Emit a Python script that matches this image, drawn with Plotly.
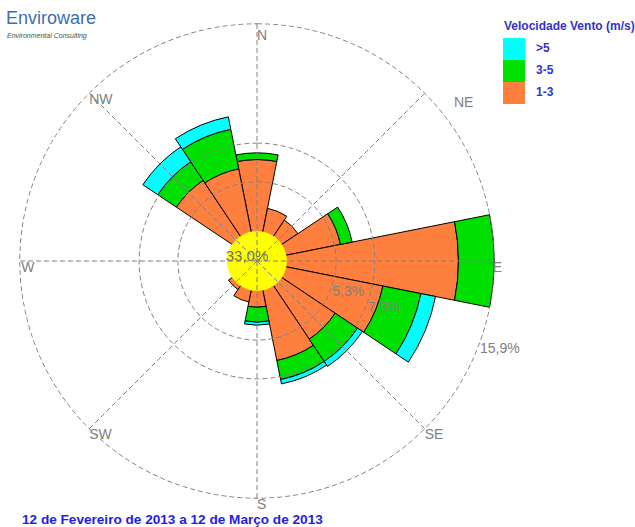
import plotly.graph_objects as go

# --- Wind rose data (% of observations) ---
DIRECTIONS = ["N", "NNE", "NE", "ENE", "E", "ESE", "SE", "SSE",
              "S", "SSW", "SW", "WSW", "W", "WNW", "NW", "NNW"]
SPEED_1_3 = [6.8, 3.6, 3.3, 5.7, 13.5, 8.6, 6.3, 6.8, 3.1, 2.8, 2.3, 1.9, 1.0, 1.5, 6.5, 6.3]
SPEED_3_5 = [0.45, None, None, 0.8, 2.4, 2.6, 1.8, 1.3, 1.0, None, None, None, None, None, 1.5, 2.7]
SPEED_GT5 = [None, None, None, None, None, 1.0, 0.4, 0.3, 0.2, None, None, None, None, None, 1.2, 0.85]
CALM_PCT = 33.0
RING_VALUES = [5.3, 7.9, 15.9]
COMPASS_LABELS = ["N", "NE", "E", "SE", "S", "SW", "W", "NW"]
LEGEND_TITLE = "Velocidade Vento (m/s)"
LEGEND_LABELS = [">5", "3-5", "1-3"]
PERIOD_TEXT = "12 de Fevereiro de 2013 a 12 de Março de 2013"

# --- Style ---
W, H = 635, 527
CX, CY, R_PX = 257, 261, 238          # plot centre and outer radius in pixels
R_MAX = 15.95
CALM_RADIUS = 2.0                      # radius of the calm disc, in radial units
C_LOW, C_MID, C_HIGH = "#FF7F3F", "#00E000", "#00FFFF"
GREY = "#808080"
BLUE_TXT = "#3333CC"
FONT = "Liberation Sans, Arial, sans-serif"
GRID_DASH = "5px,3px"

sector = 360 / len(DIRECTIONS)
theta = [i * sector for i in range(len(DIRECTIONS))]

fig = go.Figure()
for vals, col, name in [(SPEED_1_3, C_LOW, LEGEND_LABELS[2]),
                        (SPEED_3_5, C_MID, LEGEND_LABELS[1]),
                        (SPEED_GT5, C_HIGH, LEGEND_LABELS[0])]:
    fig.add_trace(go.Barpolar(
        r=vals, theta=theta, width=[sector] * len(theta), name=name,
        marker=dict(color=col, line=dict(color="black", width=1)),
        showlegend=False, hoverinfo="skip"))

# calm disc in the centre
circle_theta = [i * 2 for i in range(181)]
fig.add_trace(go.Scatterpolar(
    r=[CALM_RADIUS] * len(circle_theta), theta=circle_theta,
    mode="lines", fill="toself", fillcolor="#FFFF00",
    line=dict(color="#FFFF00", width=0), showlegend=False, hoverinfo="skip"))

# dashed grid drawn over the bars: rings and compass spokes
for rv in RING_VALUES:
    fig.add_trace(go.Scatterpolar(
        r=[rv] * len(circle_theta), theta=circle_theta, mode="lines",
        line=dict(color=GREY, width=1, dash=GRID_DASH),
        showlegend=False, hoverinfo="skip"))
spoke_r, spoke_t = [], []
for a in range(0, 360, 45):
    spoke_r += [0, RING_VALUES[-1], None]
    spoke_t += [a, a, None]
fig.add_trace(go.Scatterpolar(
    r=spoke_r, theta=spoke_t, mode="lines",
    line=dict(color=GREY, width=1, dash=GRID_DASH),
    showlegend=False, hoverinfo="skip"))

fig.add_trace(go.Scatterpolar(
    r=[0.72], theta=[292], mode="text",
    text=[f"{CALM_PCT:.1f}%".replace(".", ",")],
    textfont=dict(family=FONT, size=15, color="#6E6E6E"),
    textposition="middle center", showlegend=False, hoverinfo="skip"))

# ring labels
fig.add_trace(go.Scatterpolar(
    r=RING_VALUES, theta=[108, 110, 110], mode="text",
    text=[f"{v:.1f}%".replace(".", ",") for v in RING_VALUES],
    textfont=dict(family=FONT, size=14, color=GREY),
    textposition="bottom right", cliponaxis=False,
    showlegend=False, hoverinfo="skip"))

# compass labels (NE is offset to the right and placed separately)
lab_r = [15.5, 15.8, 15.9, 15.9, 15.9, 15.8, 15.9]
lab_t = [0, 90, 135, 180, 225, 270, 315]
lab_txt = [c for c in COMPASS_LABELS if c != "NE"]
fig.add_trace(go.Scatterpolar(
    r=lab_r, theta=lab_t, mode="text", text=lab_txt,
    textfont=dict(family=FONT, size=14, color=GREY),
    textposition="bottom right", cliponaxis=False,
    showlegend=False, hoverinfo="skip"))

fig.update_layout(
    width=W, height=H, margin=dict(l=0, r=0, t=0, b=0),
    paper_bgcolor="white", plot_bgcolor="white",
    polar=dict(
        domain=dict(x=[(CX - R_PX) / W, (CX + R_PX) / W],
                    y=[1 - (CY + R_PX) / H, 1 - (CY - R_PX) / H]),
        bgcolor="white",
        barmode="stack",
        radialaxis=dict(range=[0, R_MAX], showgrid=False,
                        showticklabels=False, ticks="", showline=False),
        angularaxis=dict(direction="clockwise", rotation=90, showgrid=False,
                         showticklabels=False, ticks="", showline=False),
    ),
)


def px(x, y):
    return x / W, 1 - y / H


# NE compass label
tx, ty = px(452, 92)
fig.add_annotation(xref="paper", yref="paper", x=tx, y=ty, text="NE",
                   showarrow=False, xanchor="left", yanchor="top",
                   font=dict(family=FONT, size=14, color=GREY))

# legend drawn as coloured boxes with labels
box_cols = [C_HIGH, C_MID, C_LOW]
for i, (col, lab) in enumerate(zip(box_cols, LEGEND_LABELS)):
    y0 = 38 + i * 22
    x0p, y0p = px(503, y0)
    x1p, y1p = px(525, y0 + 22)
    fig.add_shape(type="rect", xref="paper", yref="paper",
                  x0=x0p, x1=x1p, y0=y1p, y1=y0p,
                  fillcolor=col, line=dict(width=0))
    tx, ty = px(534, y0 + 10)
    fig.add_annotation(xref="paper", yref="paper", x=tx, y=ty, text=f"<b>{lab}</b>",
                       showarrow=False, xanchor="left", yanchor="middle",
                       font=dict(family=FONT, size=12, color=BLUE_TXT))
tx, ty = px(502, 26)
fig.add_annotation(xref="paper", yref="paper", x=tx, y=ty, text=f"<b>{LEGEND_TITLE}</b>",
                   showarrow=False, xanchor="left", yanchor="middle",
                   font=dict(family=FONT, size=12, color=BLUE_TXT))

# period caption
tx, ty = px(20, 519)
fig.add_annotation(xref="paper", yref="paper", x=tx, y=ty, text=f"<b>{PERIOD_TEXT}</b>",
                   showarrow=False, xanchor="left", yanchor="middle",
                   font=dict(family=FONT, size=13.6, color="#1E1EE6"))

# company logo text
tx, ty = px(4, 30)
fig.add_annotation(xref="paper", yref="paper", x=tx, y=ty, text="Enviroware",
                   showarrow=False, xanchor="left", yanchor="bottom",
                   font=dict(family=FONT, size=18, color="#3C6EB4"))
tx, ty = px(5, 30)
fig.add_annotation(xref="paper", yref="paper", x=tx, y=ty, text="<i>Environmental Consulting</i>",
                   showarrow=False, xanchor="left", yanchor="top",
                   font=dict(family=FONT, size=7, color="#3A5A3A"))

fig.write_html("out.html")
